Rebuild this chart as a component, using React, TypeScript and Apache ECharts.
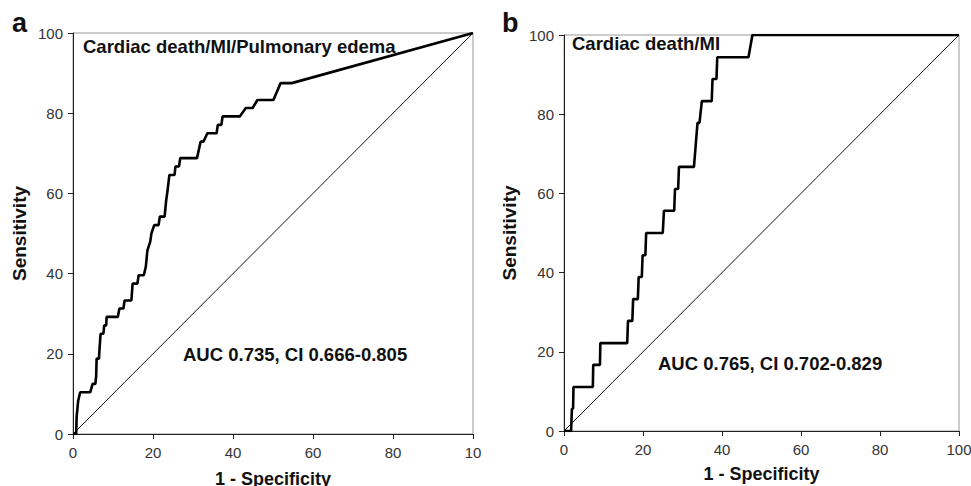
import React, { useEffect, useRef } from "react";
import * as echarts from "echarts";

// Panel a: Cardiac death/MI/Pulmonary edema
const fprA = [0, 0.8, 0.9, 1.3, 1.8, 4.3, 4.9, 5.6, 5.8, 5.9, 6.5, 6.6, 6.9, 7.6, 7.8, 8.3, 8.4, 11.2, 11.6, 12.6, 12.9, 14.6, 14.9, 16.1, 16.4, 17.7, 18.2, 18.6, 19.3, 19.6, 20.3, 21.4, 21.7, 22.9, 23.3, 23.6, 24.1, 25.4, 25.6, 26.5, 26.8, 31.0, 31.9, 32.6, 33.6, 35.9, 36.2, 37.1, 37.4, 41.7, 43.2, 44.9, 46.1, 50.1, 51.9, 54.7, 100];
const tprA = [0, 0, 4.2, 8.3, 10.4, 10.4, 12.5, 12.5, 14.6, 18.8, 18.8, 20.8, 25.0, 25.0, 27.1, 27.1, 29.2, 29.2, 31.3, 31.3, 33.3, 33.3, 37.5, 37.5, 39.6, 39.6, 41.7, 45.8, 47.9, 50.0, 52.1, 52.1, 54.2, 54.2, 58.3, 60.4, 64.6, 64.6, 66.7, 66.7, 68.8, 68.8, 72.9, 72.9, 75.0, 75.0, 77.1, 77.1, 79.2, 79.2, 81.3, 81.3, 83.3, 83.3, 87.5, 87.5, 100];

// Panel b: Cardiac death/MI
const fprB = [0, 1.8, 2.0, 2.3, 2.4, 7.3, 7.4, 9.1, 9.2, 16.0, 16.2, 17.3, 17.5, 18.7, 18.9, 19.7, 19.9, 20.6, 20.8, 25.0, 25.3, 27.9, 28.1, 28.9, 29.1, 32.9, 33.8, 34.3, 34.9, 37.4, 37.6, 38.6, 38.8, 46.7, 47.7, 100];
const tprB = [0, 0, 5.6, 5.6, 11.1, 11.1, 16.7, 16.7, 22.2, 22.2, 27.8, 27.8, 33.3, 33.3, 38.9, 38.9, 44.4, 44.4, 50.0, 50.0, 55.6, 55.6, 61.1, 61.1, 66.7, 66.7, 77.8, 77.8, 83.3, 83.3, 88.9, 88.9, 94.4, 94.4, 100, 100];

const refLine = [0, 100];

const xTickLabelsA = ["0", "20", "40", "60", "80", "10"];
const xTickLabelsB = ["0", "20", "40", "60", "80", "100"];
const yTickLabels = ["0", "20", "40", "60", "80", "100"];

const titleA = "Cardiac death/MI/Pulmonary edema";
const titleB = "Cardiac death/MI";
const aucA = "AUC 0.735, CI 0.666-0.805";
const aucB = "AUC 0.765, CI 0.702-0.829";
const xName = "1 - Specificity";
const yName = "Sensitivity";

const FONT = "Arial, 'Liberation Sans', sans-serif";

function pairs(xs: number[], ys: number[]) {
  return xs.map((x, i) => [x, ys[i]]);
}

function xAxisCfg(gridIndex: number, labels: string[], nameGap: number) {
  return {
    gridIndex,
    type: "value",
    min: 0,
    max: 100,
    interval: 20,
    name: xName,
    nameLocation: "middle",
    nameGap,
    nameTextStyle: { fontFamily: FONT, fontWeight: "bold", fontSize: 18, color: "#111" },
    axisLine: { show: true, onZero: false, lineStyle: { color: "#222", width: 1 } },
    axisTick: { show: true, inside: false, length: 5, lineStyle: { color: "#222" } },
    axisLabel: {
      margin: 11,
      fontFamily: FONT,
      fontSize: 15,
      color: "#333",
      formatter: (v: number) => labels[Math.round(v / 20)] ?? "",
    },
    splitLine: { show: false },
  };
}

function yAxisCfg(gridIndex: number, nameGap: number) {
  return {
    gridIndex,
    type: "value",
    min: 0,
    max: 100,
    interval: 20,
    name: yName,
    nameLocation: "middle",
    nameGap,
    nameTextStyle: { fontFamily: FONT, fontWeight: "bold", fontSize: 19, color: "#111" },
    axisLine: { show: true, onZero: false, lineStyle: { color: "#222", width: 1 } },
    axisTick: { show: true, inside: false, length: 5, lineStyle: { color: "#222" } },
    axisLabel: {
      margin: 10,
      fontFamily: FONT,
      fontSize: 15,
      color: "#333",
      formatter: (v: number) => yTickLabels[Math.round(v / 20)] ?? "",
    },
    splitLine: { show: false },
  };
}

export default function App() {
  const ref = useRef<HTMLDivElement>(null);
  useEffect(() => {
    document.body.style.margin = "0";
    if (!ref.current) return;
    const chart = echarts.init(ref.current, undefined, { renderer: "svg" });
    const textStyle = (t: string, size = 18.5) => ({
      text: t,
      fontFamily: FONT,
      fontWeight: "bold",
      fontSize: size,
      fill: "#111",
    });
    const gridBase = {
      show: true,
      borderColor: "#999",
      borderWidth: 1,
      backgroundColor: "transparent",
      containLabel: false,
      outerBoundsMode: "none",
    };
    chart.setOption({
      animation: false,
      backgroundColor: "#fff",
      grid: [
        { ...gridBase, left: 73, top: 33, width: 400, height: 401 },
        { ...gridBase, left: 564, top: 35, width: 395, height: 396 },
      ],
      xAxis: [xAxisCfg(0, xTickLabelsA, 36), xAxisCfg(1, xTickLabelsB, 34)],
      yAxis: [yAxisCfg(0, 44), yAxisCfg(1, 45)],
      series: [
        {
          type: "line",
          xAxisIndex: 0,
          yAxisIndex: 0,
          data: pairs(refLine, refLine),
          showSymbol: false,
          lineStyle: { color: "#111", width: 1 },
          z: 2,
        },
        {
          type: "line",
          xAxisIndex: 0,
          yAxisIndex: 0,
          data: pairs(fprA, tprA),
          showSymbol: false,
          lineStyle: { color: "#000", width: 2.6 },
          z: 3,
        },
        {
          type: "line",
          xAxisIndex: 1,
          yAxisIndex: 1,
          data: pairs(refLine, refLine),
          showSymbol: false,
          lineStyle: { color: "#111", width: 1 },
          z: 2,
        },
        {
          type: "line",
          xAxisIndex: 1,
          yAxisIndex: 1,
          data: pairs(fprB, tprB),
          showSymbol: false,
          lineStyle: { color: "#000", width: 2.6 },
          z: 3,
        },
      ],
      graphic: [
        { type: "text", left: 12, top: 9, style: textStyle("a", 27) },
        { type: "text", left: 502, top: 9, style: textStyle("b", 27) },
        { type: "text", x: 83, y: 46, style: { ...textStyle(titleA), textVerticalAlign: "middle" } },
        { type: "text", x: 572, y: 43, style: { ...textStyle(titleB), textVerticalAlign: "middle" } },
        { type: "text", x: 183, y: 354, style: { ...textStyle(aucA), textVerticalAlign: "middle" } },
        { type: "text", x: 658, y: 363, style: { ...textStyle(aucB), textVerticalAlign: "middle" } },
      ],
    });
    return () => chart.dispose();
  }, []);
  return <div ref={ref} style={{ width: 971, height: 486 }} />;
}
